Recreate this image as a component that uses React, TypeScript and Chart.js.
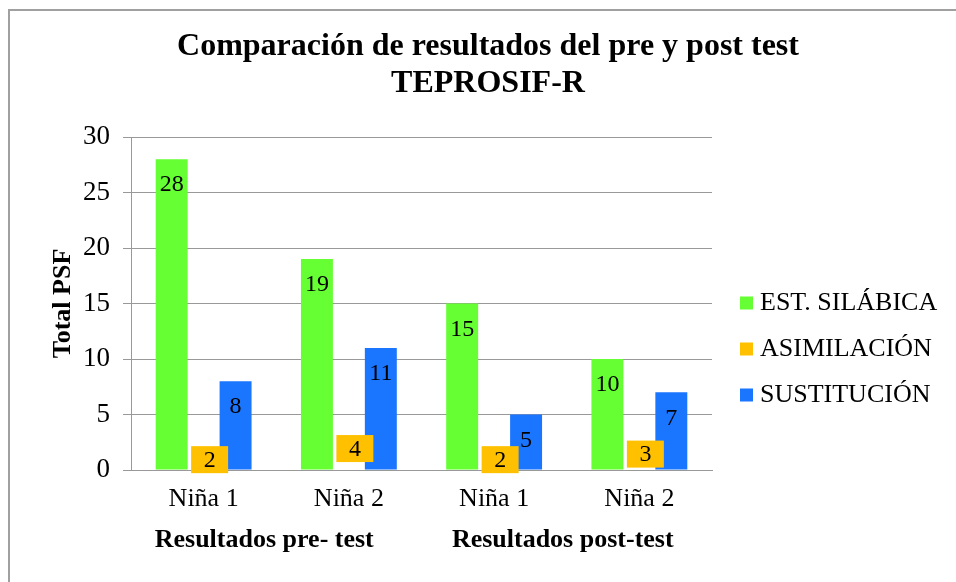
import React, { useEffect, useRef } from "react";
import { Chart, registerables } from "chart.js";

Chart.register(...registerables);

const categories = ["Niña 1", "Niña 2", "Niña 1", "Niña 2"];
const groupLabels = ["Resultados pre- test", "Resultados post-test"];
const seriesNames = ["EST. SILÁBICA", "ASIMILACIÓN", "SUSTITUCIÓN"];
const estSilabica = [28, 19, 15, 10];
const asimilacion = [2, 4, 2, 3];
const sustitucion = [8, 11, 5, 7];
const titleLines = ["Comparación de resultados del pre y post test", "TEPROSIF-R"];
const yTicks = [0, 5, 10, 15, 20, 25, 30];

const GREEN = "#66ff33";
const ORANGE = "#ffc000";
const BLUE = "#1a75ff";
const COLORS = [GREEN, ORANGE, BLUE];
const FONT = "'Liberation Serif', 'Times New Roman', serif";
const GROUP_SHIFT = [-12, -4];

const labelPlugin = {
  id: "customLabels",
  afterDatasetsDraw(chart: any) {
    const ctx = chart.ctx;
    ctx.save();
    ctx.font = `24px ${FONT}`;
    ctx.textAlign = "center";
    ctx.textBaseline = "middle";
    chart.data.datasets.forEach((ds: any, di: number) => {
      const meta = chart.getDatasetMeta(di);
      meta.data.forEach((bar: any, i: number) => {
        const v = ds.data[i];
        if (di === 1) {
          const mid = (bar.y + bar.base) / 2;
          const w = 37;
          const h = 27;
          const cx = bar.x + 6;
          ctx.fillStyle = ORANGE;
          ctx.fillRect(cx - w / 2, mid - h / 2 + 1, w, h);
          ctx.fillStyle = "#000";
          ctx.fillText(String(v), cx, mid + 2);
        } else {
          ctx.fillStyle = "#000";
          ctx.fillText(String(v), bar.x, bar.y + 26);
        }
      });
    });
    ctx.restore();
  },
  afterDraw(chart: any) {
    const ctx = chart.ctx;
    const xs = chart.scales.x;
    const area = chart.chartArea;
    ctx.save();
    // title
    ctx.font = `bold 32px ${FONT}`;
    ctx.fillStyle = "#000";
    ctx.textAlign = "center";
    ctx.textBaseline = "middle";
    titleLines.forEach((t, i) => {
      ctx.fillText(t, 478, 36 + i * 37);
    });
    // group labels
    ctx.font = `bold 26px ${FONT}`;
    groupLabels.forEach((g, gi) => {
      const x = (xs.getPixelForTick(gi * 2) + xs.getPixelForTick(gi * 2 + 1)) / 2 + GROUP_SHIFT[gi];
      ctx.fillText(g, x, area.bottom + 70);
    });
    // legend
    ctx.font = `26px ${FONT}`;
    ctx.textAlign = "left";
    const cy = (area.top + area.bottom) / 2 + 45;
    seriesNames.forEach((name, i) => {
      const y = cy + (i - 1) * 46;
      ctx.fillStyle = COLORS[i];
      ctx.fillRect(area.right + 28, y - 6, 13, 13);
      ctx.fillStyle = "#000";
      ctx.fillText(name, area.right + 48, y + 1);
    });
    ctx.restore();
  },
};

export default function App() {
  const ref = useRef<HTMLCanvasElement>(null);
  useEffect(() => {
    if (!ref.current) return;
    const chart = new Chart(ref.current, {
      type: "bar",
      data: {
        labels: categories,
        datasets: [
          { label: seriesNames[0], data: estSilabica, backgroundColor: GREEN },
          { label: seriesNames[1], data: asimilacion, backgroundColor: "rgba(0,0,0,0)" },
          { label: seriesNames[2], data: sustitucion, backgroundColor: BLUE },
        ],
      },
      options: {
        responsive: false,
        animation: false,
        layout: { padding: { left: 21, right: 244, top: 126, bottom: 0 } },
        datasets: { bar: { categoryPercentage: 0.66, barPercentage: 1 } },
        plugins: {
          title: { display: false },
          legend: { display: false },
          tooltip: { enabled: false },
        },
        scales: {
          x: {
            afterFit: (s: any) => {
              s.height = 112;
            },
            grid: { display: false, drawTicks: false },
            border: { display: true, color: "#999" },
            ticks: { color: "#000", font: { family: FONT, size: 26 }, padding: 14 },
          },
          y: {
            min: 0,
            max: 30,
            afterBuildTicks: (s: any) => {
              s.ticks = yTicks.map((v) => ({ value: v }));
            },
            afterFit: (s: any) => {
              s.width = 100;
            },
            grid: { color: "#999", tickLength: 8 },
            border: { display: true, color: "#999" },
            ticks: { color: "#000", font: { family: FONT, size: 27 }, padding: 13 },
            title: {
              display: true,
              text: "Total PSF",
              color: "#000",
              font: { family: FONT, size: 26, weight: "bold" },
              padding: { top: 17, bottom: 0 },
            },
          },
        },
      },
      plugins: [labelPlugin],
    });
    return () => chart.destroy();
  }, []);
  return (
    <div
      style={{
        position: "fixed",
        left: 8,
        top: 9,
        width: 946,
        height: 571,
        borderLeft: "2px solid #a0a0a0",
        borderTop: "2px solid #a0a0a0",
        background: "#fff",
        overflow: "hidden",
      }}
    >
      <canvas ref={ref} width={946} height={571} style={{ display: "block" }} />
    </div>
  );
}
